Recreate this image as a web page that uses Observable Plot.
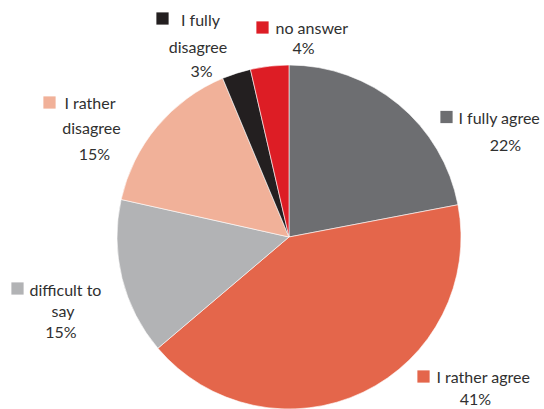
<!DOCTYPE html>
<html>
<head>
<meta charset="utf-8">
<script src="https://cdn.jsdelivr.net/npm/d3@7"></script>
<script src="https://cdn.jsdelivr.net/npm/@observablehq/plot@0.6"></script>
<style>
  html, body { margin: 0; padding: 0; background: #fff; }
  #chart svg { display: block; }
</style>
</head>
<body>
<div id="chart"></div>
<script>
// ---- data ----
const categories = ["I fully agree", "I rather agree", "difficult to say", "I rather disagree", "I fully disagree", "no answer"];
const shares = [22.0, 41.8, 14.7, 15.2, 2.7, 3.6];          // slice sizes (%)
const pctLabels = ["22%", "41%", "15%", "15%", "3%", "4%"];   // printed labels
const colors = ["#6d6e71", "#e4664b", "#b2b3b5", "#f1b199", "#231f20", "#dd1d25"];

// ---- layout (pixels) ----
const W = 544, H = 409;
const pieCenter = [289, 237], pieRadius = 172;
// per label: square centre, first-line start, first-line word count, following lines (centre x, baseline y)
const labelLayout = [
  {sq: [446, 116.5], l1: [458, 123.5], words: 3, rest: [[505, 150]]},
  {sq: [423, 376],   l1: [436, 382],   words: 3, rest: [[475, 404]]},
  {sq: [17, 288],    l1: [29, 295],    words: 2, rest: [[62.5, 316], [60.5, 337]]},
  {sq: [49, 102],    l1: [64, 108.5],  words: 2, rest: [[91, 133], [94, 159]]},
  {sq: [162, 18],    l1: [180.5, 25],  words: 2, rest: [[197.5, 52], [201, 76.5]]},
  {sq: [262, 27],    l1: [275, 33],    words: 2, rest: [[303, 53.5]]}
];

const slices = categories.map((c, i) => ({category: c, value: shares[i]}));

const squares = categories.map((c, i) => ({category: c, x: labelLayout[i].sq[0], y: labelLayout[i].sq[1]}));
const textRows = [];
categories.forEach((c, i) => {
  const L = labelLayout[i];
  const words = c.split(" ");
  const first = words.slice(0, L.words).join(" ");
  const second = words.slice(L.words).join(" ");
  textRows.push({text: first, x: L.l1[0], y: L.l1[1], anchor: "start"});
  const rest = second ? [second, pctLabels[i]] : [pctLabels[i]];
  rest.forEach((t, k) => textRows.push({text: t, x: L.rest[k][0], y: L.rest[k][1], anchor: "middle"}));
});

function pieMark(index, scales, values, dimensions, context) {
  const cx = scales.x(pieCenter[0]), cy = scales.y(pieCenter[1]);
  const r = scales.x(pieCenter[0] + pieRadius) - cx;
  const arcs = d3.pie().sort(null).value(d => d.value)(slices);
  const arc = d3.arc().innerRadius(0).outerRadius(r);
  const g = d3.create("svg:g").attr("transform", `translate(${cx},${cy})`);
  g.selectAll("path").data(arcs).join("path")
    .attr("d", arc)
    .attr("fill", d => scales.color(d.data.category))
    .attr("stroke", "#fff")
    .attr("stroke-width", 0.6)
    .attr("stroke-linejoin", "round");
  return g.node();
}

const chart = Plot.plot({
  width: W,
  height: H,
  margin: 0,
  style: {fontFamily: "Lato, sans-serif", background: "#fff"},
  x: {domain: [0, W], range: [0, W], axis: null},
  y: {domain: [0, H], range: [0, H], axis: null},
  color: {domain: categories, range: colors},
  marks: [
    pieMark,
    Plot.dot(squares, {x: "x", y: "y", symbol: "square", r: 6.9, fill: "category", stroke: null}),
    Plot.text(textRows.filter(d => d.anchor === "start"), {x: "x", y: "y", text: "text", textAnchor: "start", lineAnchor: "bottom", fontSize: 16, fill: "#303030"}),
    Plot.text(textRows.filter(d => d.anchor === "middle"), {x: "x", y: "y", text: "text", textAnchor: "middle", lineAnchor: "bottom", fontSize: 16, fill: "#303030"})
  ]
});
document.getElementById("chart").appendChild(chart);
</script>
</body>
</html>
